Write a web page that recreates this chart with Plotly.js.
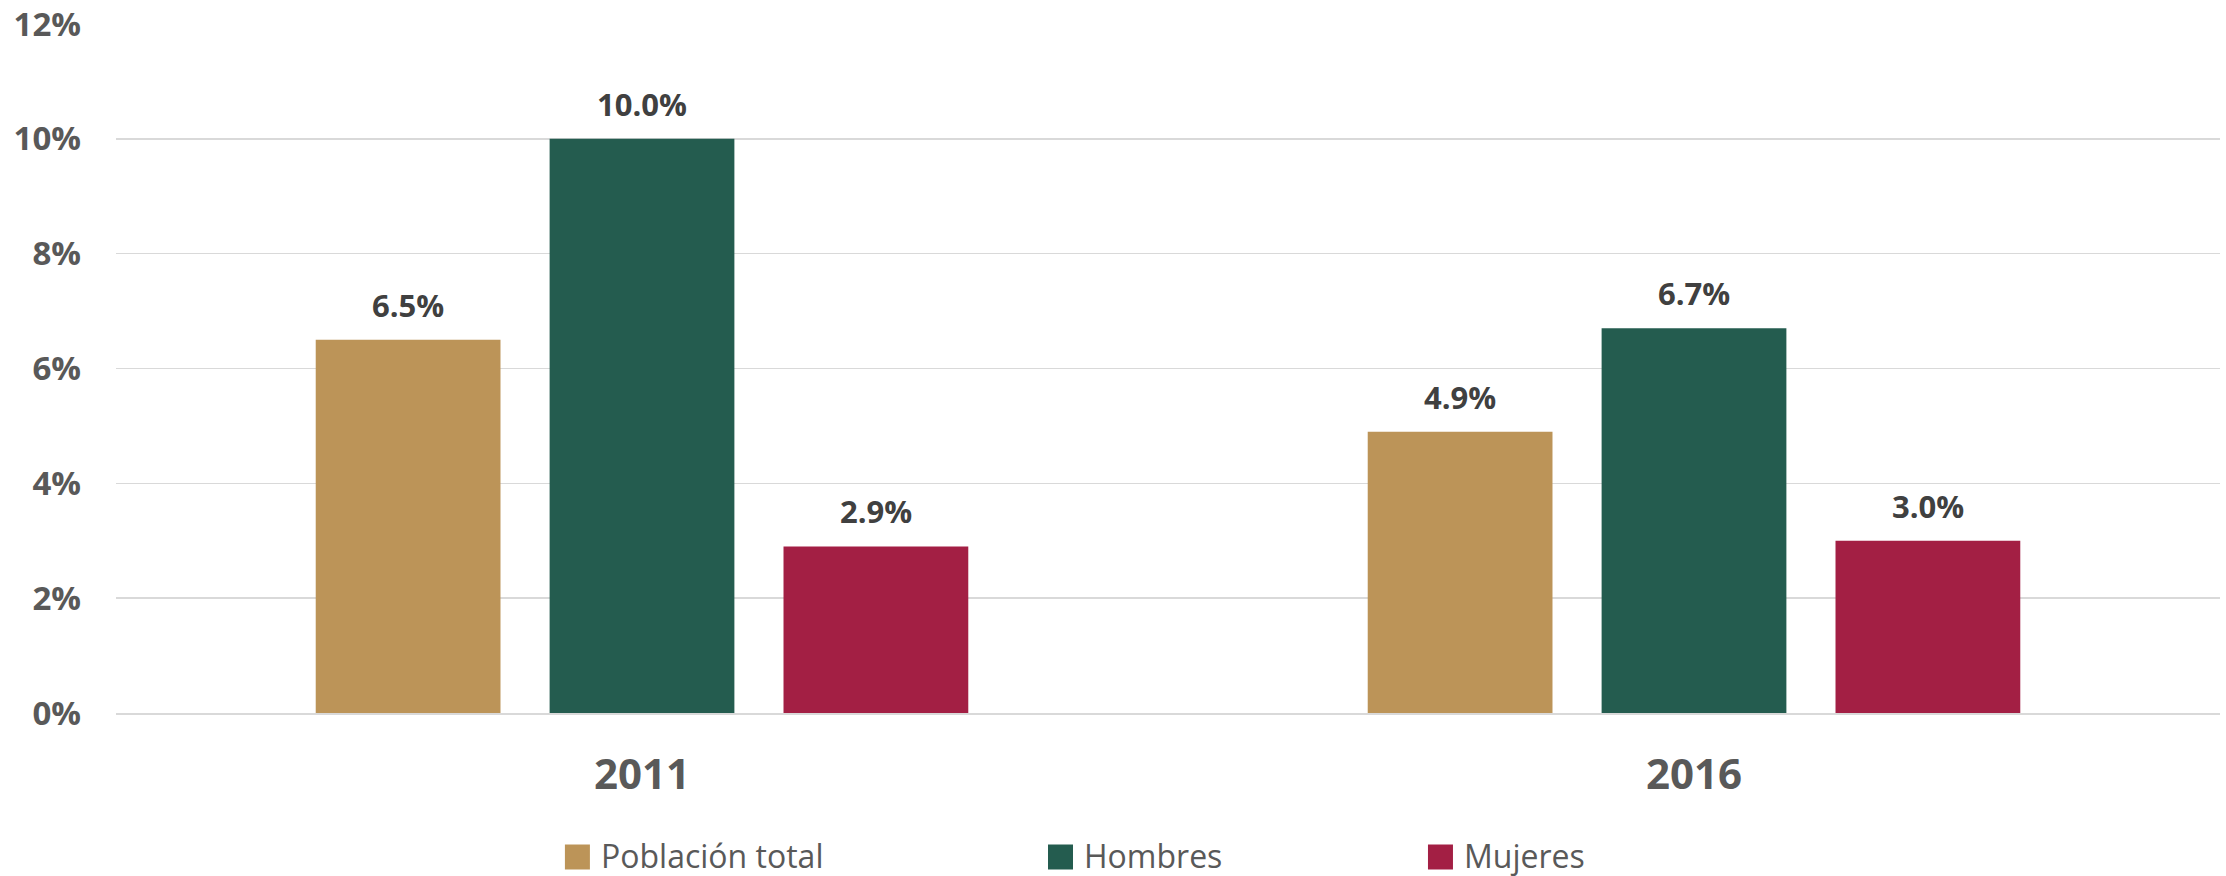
<!DOCTYPE html>
<html>
<head>
<meta charset="utf-8">
<script src="https://cdn.plot.ly/plotly-3.0.1.min.js"></script>
<style>
html,body{margin:0;padding:0;background:#ffffff;}
#chart{width:2226px;height:876px;}
</style>
</head>
<body>
<div id="chart"></div>
<script>
// ---- data ----
const years = ["2011", "2016"];
const seriesNames = ["Población total", "Hombres", "Mujeres"];
const poblacionTotal = [0.065, 0.049];
const hombres = [0.100, 0.067];
const mujeres = [0.029, 0.030];
const seriesColors = ["#BC9458", "#245C4F", "#A31F44"];
const yTickVals = [0, 0.02, 0.04, 0.06, 0.08, 0.10, 0.12];
const yTickText = ["0%", "2%", "4%", "6%", "8%", "10%", "12%"];
// legend swatch centres (paper x)
const legendX = [0.2193, 0.4489, 0.6295];

const seriesValues = [poblacionTotal, hombres, mujeres];
const BARGAP = 0.333;
const groupSlot = (1 - BARGAP) / seriesValues.length;

const traces = seriesValues.map((vals, i) => ({
  type: "bar",
  name: seriesNames[i],
  x: years,
  y: vals,
  marker: {color: seriesColors[i]},
  showlegend: false,
  hoverinfo: "skip"
}));

// value labels above the bars, placed at each bar's slot within its group
const labelAnnotations = [];
seriesValues.forEach((vals, i) => {
  vals.forEach((v, j) => {
    labelAnnotations.push({
      xref: "x", yref: "y",
      x: j + (i - (seriesValues.length - 1) / 2) * groupSlot,
      y: v,
      yanchor: "bottom", xanchor: "center",
      yshift: 12,
      showarrow: false,
      text: (v * 100).toFixed(1) + "%",
      font: {family: "Open Sans", size: 31, color: "#404040", weight: 700}
    });
  });
});

const shapes = legendX.map((x, i) => ({
  type: "rect",
  xref: "paper", yref: "paper",
  xsizemode: "pixel", ysizemode: "pixel",
  xanchor: x, yanchor: -0.209,
  x0: -12.5, x1: 12.5, y0: -12.5, y1: 12.5,
  fillcolor: seriesColors[i],
  line: {width: 0}
}));

const legendAnnotations = legendX.map((x, i) => ({
  xref: "paper", yref: "paper",
  x: x, y: -0.209,
  xshift: 22, yshift: 2,
  xanchor: "left", yanchor: "middle",
  showarrow: false,
  text: seriesNames[i],
  font: {family: "Open Sans", size: 32, color: "#595959"}
}));

const layout = {
  width: 2226,
  height: 876,
  margin: {l: 116, r: 6, t: 24, b: 163},
  paper_bgcolor: "#ffffff",
  plot_bgcolor: "rgba(0,0,0,0)",
  barmode: "group",
  bargap: BARGAP,
  bargroupgap: 0.21,
  showlegend: false,
  xaxis: {
    type: "category",
    showgrid: false,
    showline: true,
    linecolor: "#d9d9d9",
    linewidth: 2,
    ticks: "",
    ticklabelstandoff: 24,
    tickfont: {family: "Open Sans", size: 42, color: "#595959", weight: 700}
  },
  yaxis: {
    range: [0, 0.12],
    tickvals: yTickVals,
    ticktext: yTickText,
    showgrid: true,
    gridcolor: "#d9d9d9",
    gridwidth: 1.5,
    zeroline: false,
    showline: false,
    ticks: "",
    ticklabelstandoff: 34,
    tickfont: {family: "Open Sans", size: 33, color: "#595959", weight: 700}
  },
  shapes: shapes,
  annotations: labelAnnotations.concat(legendAnnotations)
};

Plotly.newPlot("chart", traces, layout, {displayModeBar: false, staticPlot: true});
</script>
</body>
</html>
